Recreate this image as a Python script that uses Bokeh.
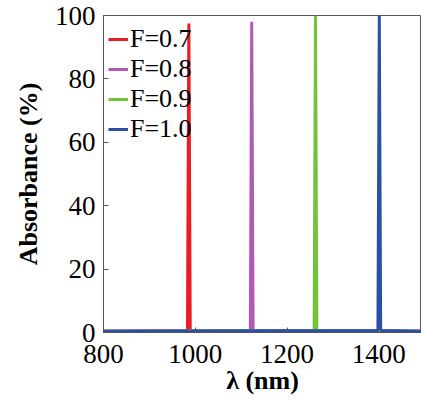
from bokeh.plotting import figure
from bokeh.embed import file_html
from bokeh.resources import INLINE
from bokeh.models import Range1d, FixedTicker, Legend, LegendItem

# Data (wavelength in nm, absorbance in %)
wl_07 = [800, 983, 984.5, 986, 987.5, 989, 1500]
ab_07 = [0.4, 0.6, 50, 97.5, 50, 0.6, 0.4]
wl_08 = [800, 1120, 1121.5, 1123, 1124.5, 1126, 1500]
ab_08 = [0.4, 0.6, 50, 98.0, 50, 0.6, 0.4]
wl_09 = [800, 1259, 1260.5, 1262, 1263.5, 1265, 1500]
ab_09 = [0.4, 0.6, 50, 100, 50, 0.6, 0.4]
wl_10 = [800, 1398, 1399.5, 1401, 1402.5, 1404, 1500]
ab_10 = [0.4, 0.6, 50, 100, 50, 0.6, 0.4]

labels = ["F=0.7", "F=0.8", "F=0.9", "F=1.0"]
colors = ["#ec1c24", "#b05ab4", "#72c23a", "#2a4fa6"]
x_ticks = [800, 1000, 1200, 1400]
y_ticks = [0, 20, 40, 60, 80, 100]

FONT = "'Liberation Serif', 'Times New Roman', serif"

p = figure(frame_width=318, frame_height=317, output_backend="svg",
           toolbar_location=None, x_range=Range1d(800, 1493),
           y_range=Range1d(0, 100), min_border_left=103,
           min_border_top=15, min_border_right=0, min_border_bottom=5)
p.background_fill_color = "white"
p.border_fill_color = "white"
p.outline_line_color = "#555555"
p.outline_line_width = 1
p.grid.visible = False

renderers = []
for xs, ys, c in zip([wl_07, wl_08, wl_09, wl_10], [ab_07, ab_08, ab_09, ab_10], colors):
    r = p.line(xs, ys, line_color=c, line_width=3)
    renderers.append(r)

for ax in (p.xaxis[0], p.yaxis[0]):
    ax.major_tick_in = 5
    ax.major_tick_out = 0
    ax.minor_tick_in = 0
    ax.minor_tick_out = 0
    ax.axis_line_color = "#555555"
    ax.major_tick_line_color = "#555555"
    ax.major_label_text_font = FONT
    ax.major_label_text_font_size = "27px"
    ax.major_label_text_color = "black"
    ax.axis_label_text_font = FONT
    ax.axis_label_text_font_style = "bold"
    ax.axis_label_text_font_size = "26px"
    ax.axis_label_text_color = "black"

p.xaxis[0].ticker = FixedTicker(ticks=x_ticks)
p.yaxis[0].ticker = FixedTicker(ticks=y_ticks)
p.xaxis[0].axis_label = "λ (nm)"
p.yaxis[0].axis_label = "Absorbance (%)"
p.xaxis[0].major_label_standoff = 12
p.yaxis[0].major_label_standoff = 8
p.xaxis[0].axis_label_standoff = 0
p.yaxis[0].axis_label_standoff = 9

legend = Legend(items=[LegendItem(label=l, renderers=[r]) for l, r in zip(labels, renderers)],
                location=(5, 188))
legend.label_text_font = FONT
legend.label_text_font_size = "26px"
legend.label_text_color = "black"
legend.border_line_color = None
legend.background_fill_alpha = 0
legend.glyph_width = 20
legend.label_standoff = 2
legend.spacing = 0
legend.padding = 6
legend.margin = 0
legend.label_height = 28
legend.glyph_height = 28
p.add_layout(legend)

open("out.html", "w").write(file_html(p, INLINE))
